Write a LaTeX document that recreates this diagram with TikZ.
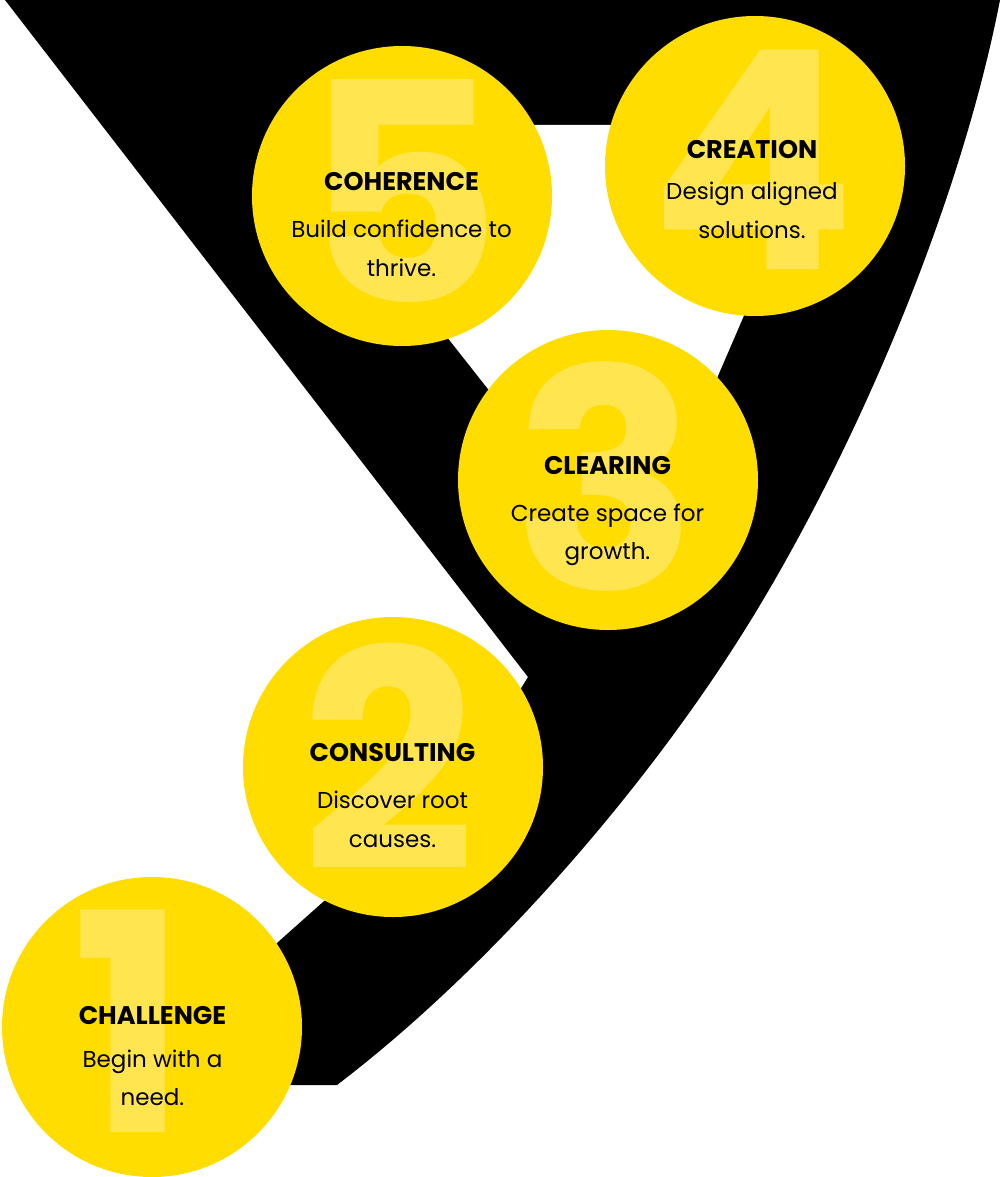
\documentclass[tikz,border=0pt]{standalone}
\usepackage{fontspec}
\setmainfont{Poppins}
\definecolor{ylw}{HTML}{FFDD00}
\definecolor{numylw}{HTML}{FFE650}
\begin{document}
\begin{tikzpicture}[x=1pt,y=-1pt,
  disc/.style={circle, fill=ylw, minimum size=300pt, inner sep=0pt},
  num/.style={font=\fontsize{305}{305}\selectfont\bfseries, text=numylw, inner sep=0pt, anchor=center},
  ttl/.style={font=\fontsize{25.5}{28}\selectfont\bfseries, text=black, anchor=base, inner sep=0pt},
  bdy/.style={font=\fontsize{23}{28}\selectfont, text=black, anchor=base, inner sep=0pt}]
\useasboundingbox (0,0) rectangle (1000,1177);
% black funnel band
\fill[black] (5,0) -- (1000,0)
  .. controls (962,196) and (865,428) .. (763,600)
  .. controls (661,772) and (497,963) .. (337,1085)
  -- (230,1085) -- (230,990) -- (277,943) -- (323,902) -- (450,800) -- (520,690) -- (528,677) -- cycle;
% white opening inside the band
\fill[white] (280,125) -- (826,125) -- (633,573) -- cycle;
% discs
\node[disc] (c5) at (402,196) {};
\node[disc] (c4) at (755,166) {};
\node[disc] (c3) at (608,480) {};
\node[disc] (c2) at (393,767) {};
\node[disc] (c1) at (152,1027) {};
% big numerals
\node[num] (n5) at (403,191) {5};
\node[num] (n4) at (753,160) {4};
\node[num] (n3) at (606,476) {3};
\node[num] (n2) at (389,757) {2};
\node[num] (n1) at (130,1021) {1};
% texts
\node[ttl] (t5) at (401.5,190) {COHERENCE};
\node[bdy] (b5a) at (401.5,237) {Build confidence to};
\node[bdy] (b5b) at (401.5,276) {thrive.};
\node[ttl] (t4) at (752,159) {CREATION};
\node[bdy] (b4a) at (752,200) {Design aligned};
\node[bdy] (b4b) at (752,238) {solutions.};
\node[ttl] (t3) at (607.5,474) {CLEARING};
\node[bdy] (b3a) at (607.5,521) {Create space for};
\node[bdy] (b3b) at (607.5,559) {growth.};
\node[ttl] (t2) at (392.5,761) {CONSULTING};
\node[bdy] (b2a) at (392.5,808) {Discover root};
\node[bdy] (b2b) at (392.5,847) {causes.};
\node[ttl] (t1) at (152.5,1024) {CHALLENGE};
\node[bdy] (b1a) at (152.5,1067) {Begin with a};
\node[bdy] (b1b) at (152.5,1105) {need.};
\end{tikzpicture}
\end{document}
